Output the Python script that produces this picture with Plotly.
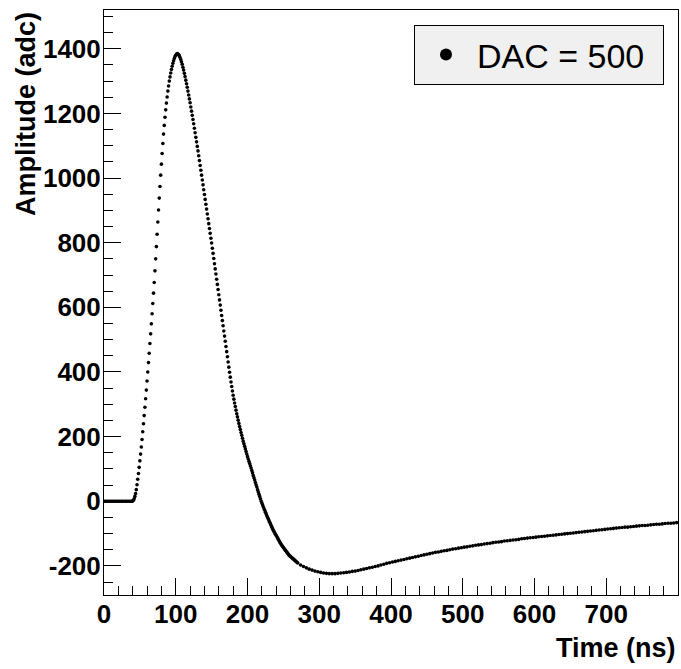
import plotly.graph_objects as go

# pulse samples (time in ns, amplitude in adc)
t_flat = list(range(0, 40, 2))
amp_flat = [0, 0, 0, 0, 0, 0, 0, 0, 0, 0,
            0, 0, 0, 0, 0, 0, 0, 0, 0, 0]

t_pulse = list(range(39, 271))
amp_pulse = [
    0, 1, 3, 8, 15, 24, 36, 51, 68, 86,
    105, 125, 146, 168, 191, 215, 240, 265, 291, 317,
    344, 372, 400, 429, 458, 488, 518, 549, 580, 612,
    644, 677, 713, 750, 788, 826, 864, 901, 938, 974,
    1009, 1043, 1076, 1107, 1136, 1163, 1188, 1211, 1232, 1251,
    1269, 1285, 1300, 1313, 1325, 1336, 1346, 1355, 1363, 1370,
    1376, 1380, 1383, 1385, 1384, 1382, 1378, 1373, 1367, 1360,
    1352, 1343, 1334, 1324, 1314, 1303, 1292, 1281, 1269, 1257,
    1245, 1233, 1220, 1207, 1194, 1181, 1168, 1154, 1140, 1126,
    1112, 1098, 1084, 1069, 1054, 1039, 1024, 1009, 994, 979,
    964, 949, 934, 919, 904, 889, 874, 859, 844, 829,
    814, 799, 783, 767, 751, 735, 719, 703, 687, 671,
    655, 639, 623, 607, 591, 575, 559, 543, 527, 511,
    495, 479, 463, 447, 431, 415, 399, 384, 369, 355,
    341, 328, 316, 304, 293, 282, 271, 261, 251, 241,
    231, 222, 213, 204, 195, 186, 178, 170, 162, 154,
    146, 138, 131, 124, 117, 110, 103, 95, 88, 80,
    73, 66, 58, 51, 44, 36, 29, 22, 15, 8,
    1, -5, -11, -17, -23, -28, -34, -39, -45, -50,
    -55, -60, -65, -70, -75, -80, -85, -90, -94, -98,
    -102, -106, -110, -114, -118, -122, -126, -130, -134, -137,
    -140, -143, -146, -149, -152, -155, -158, -161, -164, -167,
    -169, -171, -173, -175, -177, -179, -181, -183, -185, -187,
    -189, -191,
]

t_tail = list(range(274, 800, 4))
amp_tail = [
    -197, -202, -206, -210, -213, -216, -218, -220, -222, -223,
    -224, -224, -224, -223, -222, -221, -220, -219, -217, -216,
    -214, -212, -210, -208, -206, -204, -202, -200, -197, -195,
    -192, -190, -188, -186, -184, -182, -180, -178, -176, -174,
    -172, -170, -168, -166, -164, -162, -160, -158, -157, -155,
    -153, -152, -150, -148, -147, -145, -144, -142, -141, -139,
    -138, -136, -135, -134, -132, -131, -130, -128, -127, -126,
    -125, -123, -122, -121, -120, -119, -118, -116, -115, -114,
    -113, -112, -111, -110, -109, -108, -107, -106, -105, -104,
    -103, -102, -101, -100, -99, -98, -97, -96, -95, -94,
    -93, -92, -91, -90, -89, -88, -87, -86, -85, -84,
    -83, -82, -81, -80, -80, -79, -78, -77, -76, -75,
    -75, -74, -73, -72, -71, -71, -70, -69, -68, -68,
    -67, -66,
]

assert len(t_flat) == len(amp_flat)
assert len(t_pulse) == len(amp_pulse)
assert len(t_tail) == len(amp_tail)

time_ns = t_flat + t_pulse + t_tail
amplitude = amp_flat + amp_pulse + amp_tail

x_ticks = [0, 100, 200, 300, 400, 500, 600, 700]
y_ticks = [-200, 0, 200, 400, 600, 800, 1000, 1200, 1400]
y_labels = ["-200", "0", "200", "400", "600", "800", "1000", "1200", "1400"]

FONT = "Liberation Sans, Arial, sans-serif"

fig = go.Figure()
fig.add_trace(go.Scatter(
    x=time_ns, y=amplitude, mode="markers", name="DAC = 500",
    marker=dict(color="black", size=3.6),
))

axis_common = dict(
    showline=True, linecolor="black", linewidth=1, mirror=True,
    showgrid=False, zeroline=False,
    ticks="inside", tickcolor="black", ticklen=17, tickwidth=1,
    tickfont=dict(family=FONT, size=26, color="black", weight="bold"),
)

fig.update_layout(
    width=681, height=669,
    margin=dict(l=104, r=3, t=10, b=73.5),
    paper_bgcolor="white", plot_bgcolor="white",
    font=dict(family=FONT, color="black"),
    xaxis=dict(range=[0, 800], tickmode="array", tickvals=x_ticks,
               ticklabelstandoff=-4,
               minor=dict(tickmode="linear", tick0=0, dtick=20, ticks="inside",
                          ticklen=9, tickcolor="black"),
               **axis_common),
    yaxis=dict(range=[-290, 1520], tickmode="array", tickvals=y_ticks,
               ticktext=y_labels, ticklabelstandoff=-3,
               minor=dict(tickmode="linear", tick0=0, dtick=50, ticks="inside",
                          ticklen=9, tickcolor="black"),
               **axis_common),
    showlegend=True,
    legend=dict(x=0.9756, y=0.9744, xanchor="right", yanchor="top",
                orientation="h", entrywidth=181, itemwidth=52,
                bgcolor="#f0f0f0", bordercolor="black", borderwidth=1,
                font=dict(family=FONT, size=34, color="black"),
                itemsizing="constant"),
    annotations=[
        dict(text="Time (ns)", xref="paper", yref="paper", x=1.0, y=-0.09,
             xanchor="right", yanchor="middle", showarrow=False,
             font=dict(family=FONT, size=27, color="black", weight="bold")),
        dict(text="Amplitude (adc)", xref="paper", yref="paper", x=-0.136, y=1.0,
             xanchor="center", yanchor="top", textangle=-90, showarrow=False,
             font=dict(family=FONT, size=27, color="black", weight="bold")),
    ],
)

# drop the default body margin so the 681x669 figure fills the window
fig.write_html("out.html", config={"displayModeBar": False},
               post_script="document.body.style.margin='0';"
                           "document.body.style.overflow='hidden';")
